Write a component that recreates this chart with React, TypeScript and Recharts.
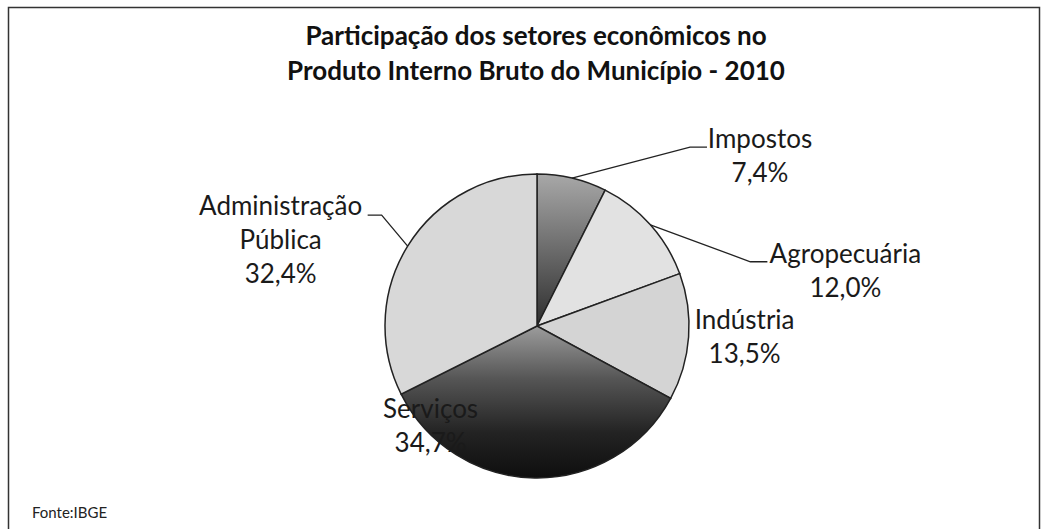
import React from "react";
import { PieChart, Pie, Cell } from "recharts";

// participação no PIB municipal, 2010 (%)
const sectors = ["Impostos", "Agropecuária", "Indústria", "Serviços", "Administração Pública"];
const shares = [7.4, 12.0, 13.5, 34.7, 32.4];
const labelLines = [["Impostos"], ["Agropecuária"], ["Indústria"], ["Serviços"], ["Administração", "Pública"]];

const fills = ["url(#gImp)", "#e2e2e2", "#d4d4d4", "url(#gServ)", "#d8d8d8"];

// label placement relative to the slice's outer edge point: text centre (dx), first baseline (dy),
// and optional leader elbow/end offsets
const labelLayout = [
  { dx: 188, dy: -30, leader: [118, -31, 135, -31] },
  { dx: 195, dy: 38, leader: [100, 37, 117, 37] },
  { dx: 56, dy: -8, leader: null },
  { dx: -104, dy: -60, leader: null },
  { dx: -127, dy: -31, leader: [-26, -31, -40, -31] },
];

const data = sectors.map((name, i) => ({ name, value: shares[i] }));

const RAD = Math.PI / 180;
const FONT = "Lato, 'Open Sans', sans-serif";
const fmt = (v: number) => v.toFixed(1).replace(".", ",") + "%";

const renderLabel = (props: any) => {
  const { cx, cy, midAngle, outerRadius, index } = props;
  const ex = cx + outerRadius * Math.cos(-midAngle * RAD);
  const ey = cy + outerRadius * Math.sin(-midAngle * RAD);
  const lay = labelLayout[index];
  const tx = ex + lay.dx;
  const ty = ey + lay.dy;
  const lines = [...labelLines[index], fmt(shares[index])];
  const lh = 34;
  const l = lay.leader;
  return (
    <g key={"lbl" + index}>
      {l && (
        <polyline
          points={`${ex},${ey} ${ex + l[0]},${ey + l[1]} ${ex + l[2]},${ey + l[3]}`}
          fill="none"
          stroke="#222"
          strokeWidth={1.3}
        />
      )}
      {lines.map((t, k) => (
        <text key={k} x={tx} y={ty + k * lh} textAnchor="middle" fill="#1a1a1a" fontSize={26} fontFamily={FONT}>
          {t}
        </text>
      ))}
    </g>
  );
};

export default function App() {
  return (
    <div style={{ position: "absolute", left: 0, top: 0, width: 1043, height: 529, background: "#fff" }}>
      <svg width={1043} height={529} style={{ position: "absolute", left: 0, top: 0 }}>
        <rect x={8.5} y={7.5} width={1031} height={540} fill="none" stroke="#333" strokeWidth={1.5} />
        <text x={536} y={45} textAnchor="middle" fontFamily={FONT} fontWeight={700} fontSize={26} fill="#111">
          Participação dos setores econômicos no
        </text>
        <text x={536} y={80} textAnchor="middle" fontFamily={FONT} fontWeight={700} fontSize={26} fill="#111">
          Produto Interno Bruto do Município - 2010
        </text>
        <text x={32} y={518} fontFamily={FONT} fontSize={15} fill="#222">
          Fonte:IBGE
        </text>
      </svg>
      <div style={{ position: "absolute", left: 0, top: 0 }}>
        <PieChart width={1043} height={529}>
          <defs>
            <linearGradient id="gServ" x1="0" y1="0" x2="0" y2="1">
              <stop offset="0%" stopColor="#9c9c9c" />
              <stop offset="35%" stopColor="#555" />
              <stop offset="70%" stopColor="#232323" />
              <stop offset="100%" stopColor="#0e0e0e" />
            </linearGradient>
            <linearGradient id="gImp" x1="0" y1="0" x2="0" y2="1">
              <stop offset="0%" stopColor="#a8a8a8" />
              <stop offset="100%" stopColor="#2e2e2e" />
            </linearGradient>
          </defs>
          <Pie
            data={data}
            dataKey="value"
            nameKey="name"
            cx={532}
            cy={321}
            outerRadius={152}
            startAngle={90}
            endAngle={-270}
            stroke="#222"
            strokeWidth={1.5}
            label={renderLabel}
            labelLine={false}
            isAnimationActive={false}
          >
            {data.map((d, i) => (
              <Cell key={d.name} fill={fills[i]} />
            ))}
          </Pie>
        </PieChart>
      </div>
    </div>
  );
}
